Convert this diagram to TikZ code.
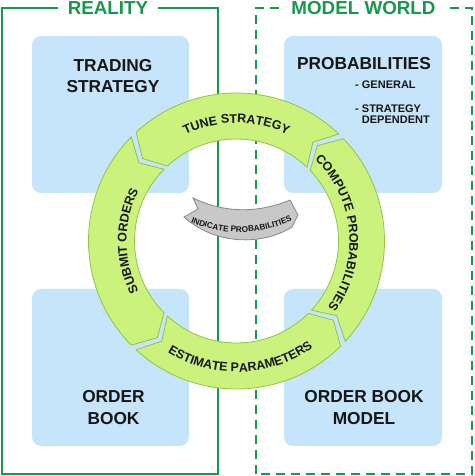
\documentclass[tikz,border=0pt]{standalone}
\usepackage{fontspec}
\setmainfont{Liberation Sans}
\usetikzlibrary{decorations.text}
\definecolor{frameGreen}{RGB}{24,152,74}
\definecolor{boxBlue}{RGB}{198,229,250}
\definecolor{ringFill}{RGB}{204,242,126}
\definecolor{ringLine}{RGB}{146,196,66}
\definecolor{bannerFill}{RGB}{200,200,200}
\definecolor{bannerLine}{RGB}{135,135,135}
\definecolor{txtDark}{RGB}{22,22,22}
\def\ro{148}\def\ri{102}\def\rmid{125}\def\dd{6}
\newcommand\ringseg[2]{(#1:\ro) arc[start angle=#1, end angle=#2, radius=\ro] -- ({#2+\dd}:\rmid) -- (#2:\ri) arc[start angle=#2, end angle=#1, radius=\ri] -- ({#1+\dd}:\rmid) -- cycle}
\newcommand\ringfont{\fontsize{12.5}{14}\selectfont\bfseries\color{txtDark}}
\newcommand\bannerfont{\fontsize{8.2}{9}\selectfont\bfseries\color{txtDark}}
\tikzset{
  frameline/.style={draw=frameGreen, line width=2.6pt},
  framedash/.style={draw=frameGreen, line width=2.8pt, dash pattern=on 9pt off 6pt},
  titletext/.style={font=\fontsize{18.8}{22}\selectfont\bfseries, text=frameGreen, fill=white, inner xsep=10pt, inner ysep=1pt, anchor=base},
  bluebox/.style={fill=boxBlue, rounded corners=9pt},
  boxtitle/.style={font=\fontsize{17.3}{21.5}\selectfont\bfseries, text=txtDark, align=center, inner sep=0pt},
  boxitem/.style={font=\fontsize{11}{11}\selectfont\bfseries, text=txtDark, align=left, inner sep=0pt, anchor=west},
  ringseg/.style={fill=ringFill, draw=ringLine, line width=0.8pt, line join=miter},
  bannerseg/.style={fill=bannerFill, draw=bannerLine, line width=0.8pt},
}
\begin{document}
\begin{tikzpicture}[x=1pt, y=1pt]
\useasboundingbox (0,0) rectangle (474,476);
% blue boxes
\fill[bluebox] (32,283) rectangle (189,440);
\fill[bluebox] (284,283) rectangle (442,440);
\fill[bluebox] (32,30) rectangle (189,187);
\fill[bluebox] (284,30) rectangle (442,187);
% frames
\draw[frameline] (2,2) rectangle (218,468);
\draw[framedash] (256,2) rectangle (472,468);
\node[titletext] (reality) at (108,461.5) {REALITY};
\node[titletext] (model) at (363.5,461.5) {MODEL WORLD};
% box texts
\node[boxtitle] (trading) at (113,399.8) {TRADING\\STRATEGY};
\node[boxtitle] (prob) at (364,412.5) {PROBABILITIES};
\node[boxitem] (general) at (355,391) {- GENERAL};
\node[boxitem] (stratdep) at (355,362.3) {- STRATEGY\\\hphantom{- }DEPENDENT};
\node[boxtitle] (orderbook) at (113.5,68.5) {ORDER\\BOOK};
\node[boxtitle] (obmodel) at (364,68.5) {ORDER BOOK\\MODEL};
% ring
\begin{scope}[shift={(236.5,235)}]
  \path[ringseg] \ringseg{46.3}{132.7};
  \path[ringseg] \ringseg{135.3}{224.7};
  \path[ringseg] \ringseg{227.3}{314.7};
  \path[ringseg] \ringseg{317.3}{403.7};
  \path[decorate, decoration={text along path, text align=center, text={|\ringfont|TUNE STRATEGY}}]
    (140:118) arc[start angle=140, end angle=40, radius=118];
  \path[decorate, decoration={text along path, text align=center, text={|\ringfont|SUBMIT ORDERS}}]
    (230:110) arc[start angle=230, end angle=130, radius=110];
  \path[decorate, decoration={text along path, text align=center, text={|\ringfont|COMPUTE PROBABILITIES}}]
    (60:113) arc[start angle=60, end angle=-50, radius=113];
  \path[decorate, decoration={text along path, text align=center, text={|\ringfont|ESTIMATE PARAMETERS}}]
    (222:131) arc[start angle=222, end angle=322, radius=131];
\end{scope}
% gray banner
\path[bannerseg] (193,278) .. controls (225,262.7) and (258,262.7) .. (290,276) -- (298,261) -- (292,249)
  .. controls (262,230) and (215,231) .. (184,259) -- (198,267) -- cycle;
\path[decorate, decoration={text along path, text align=center, text={|\bannerfont|INDICATE PROBABILITIES}}]
  (186,256) .. controls (222,239.5) and (260,239.5) .. (297,257.5);
\end{tikzpicture}
\end{document}
